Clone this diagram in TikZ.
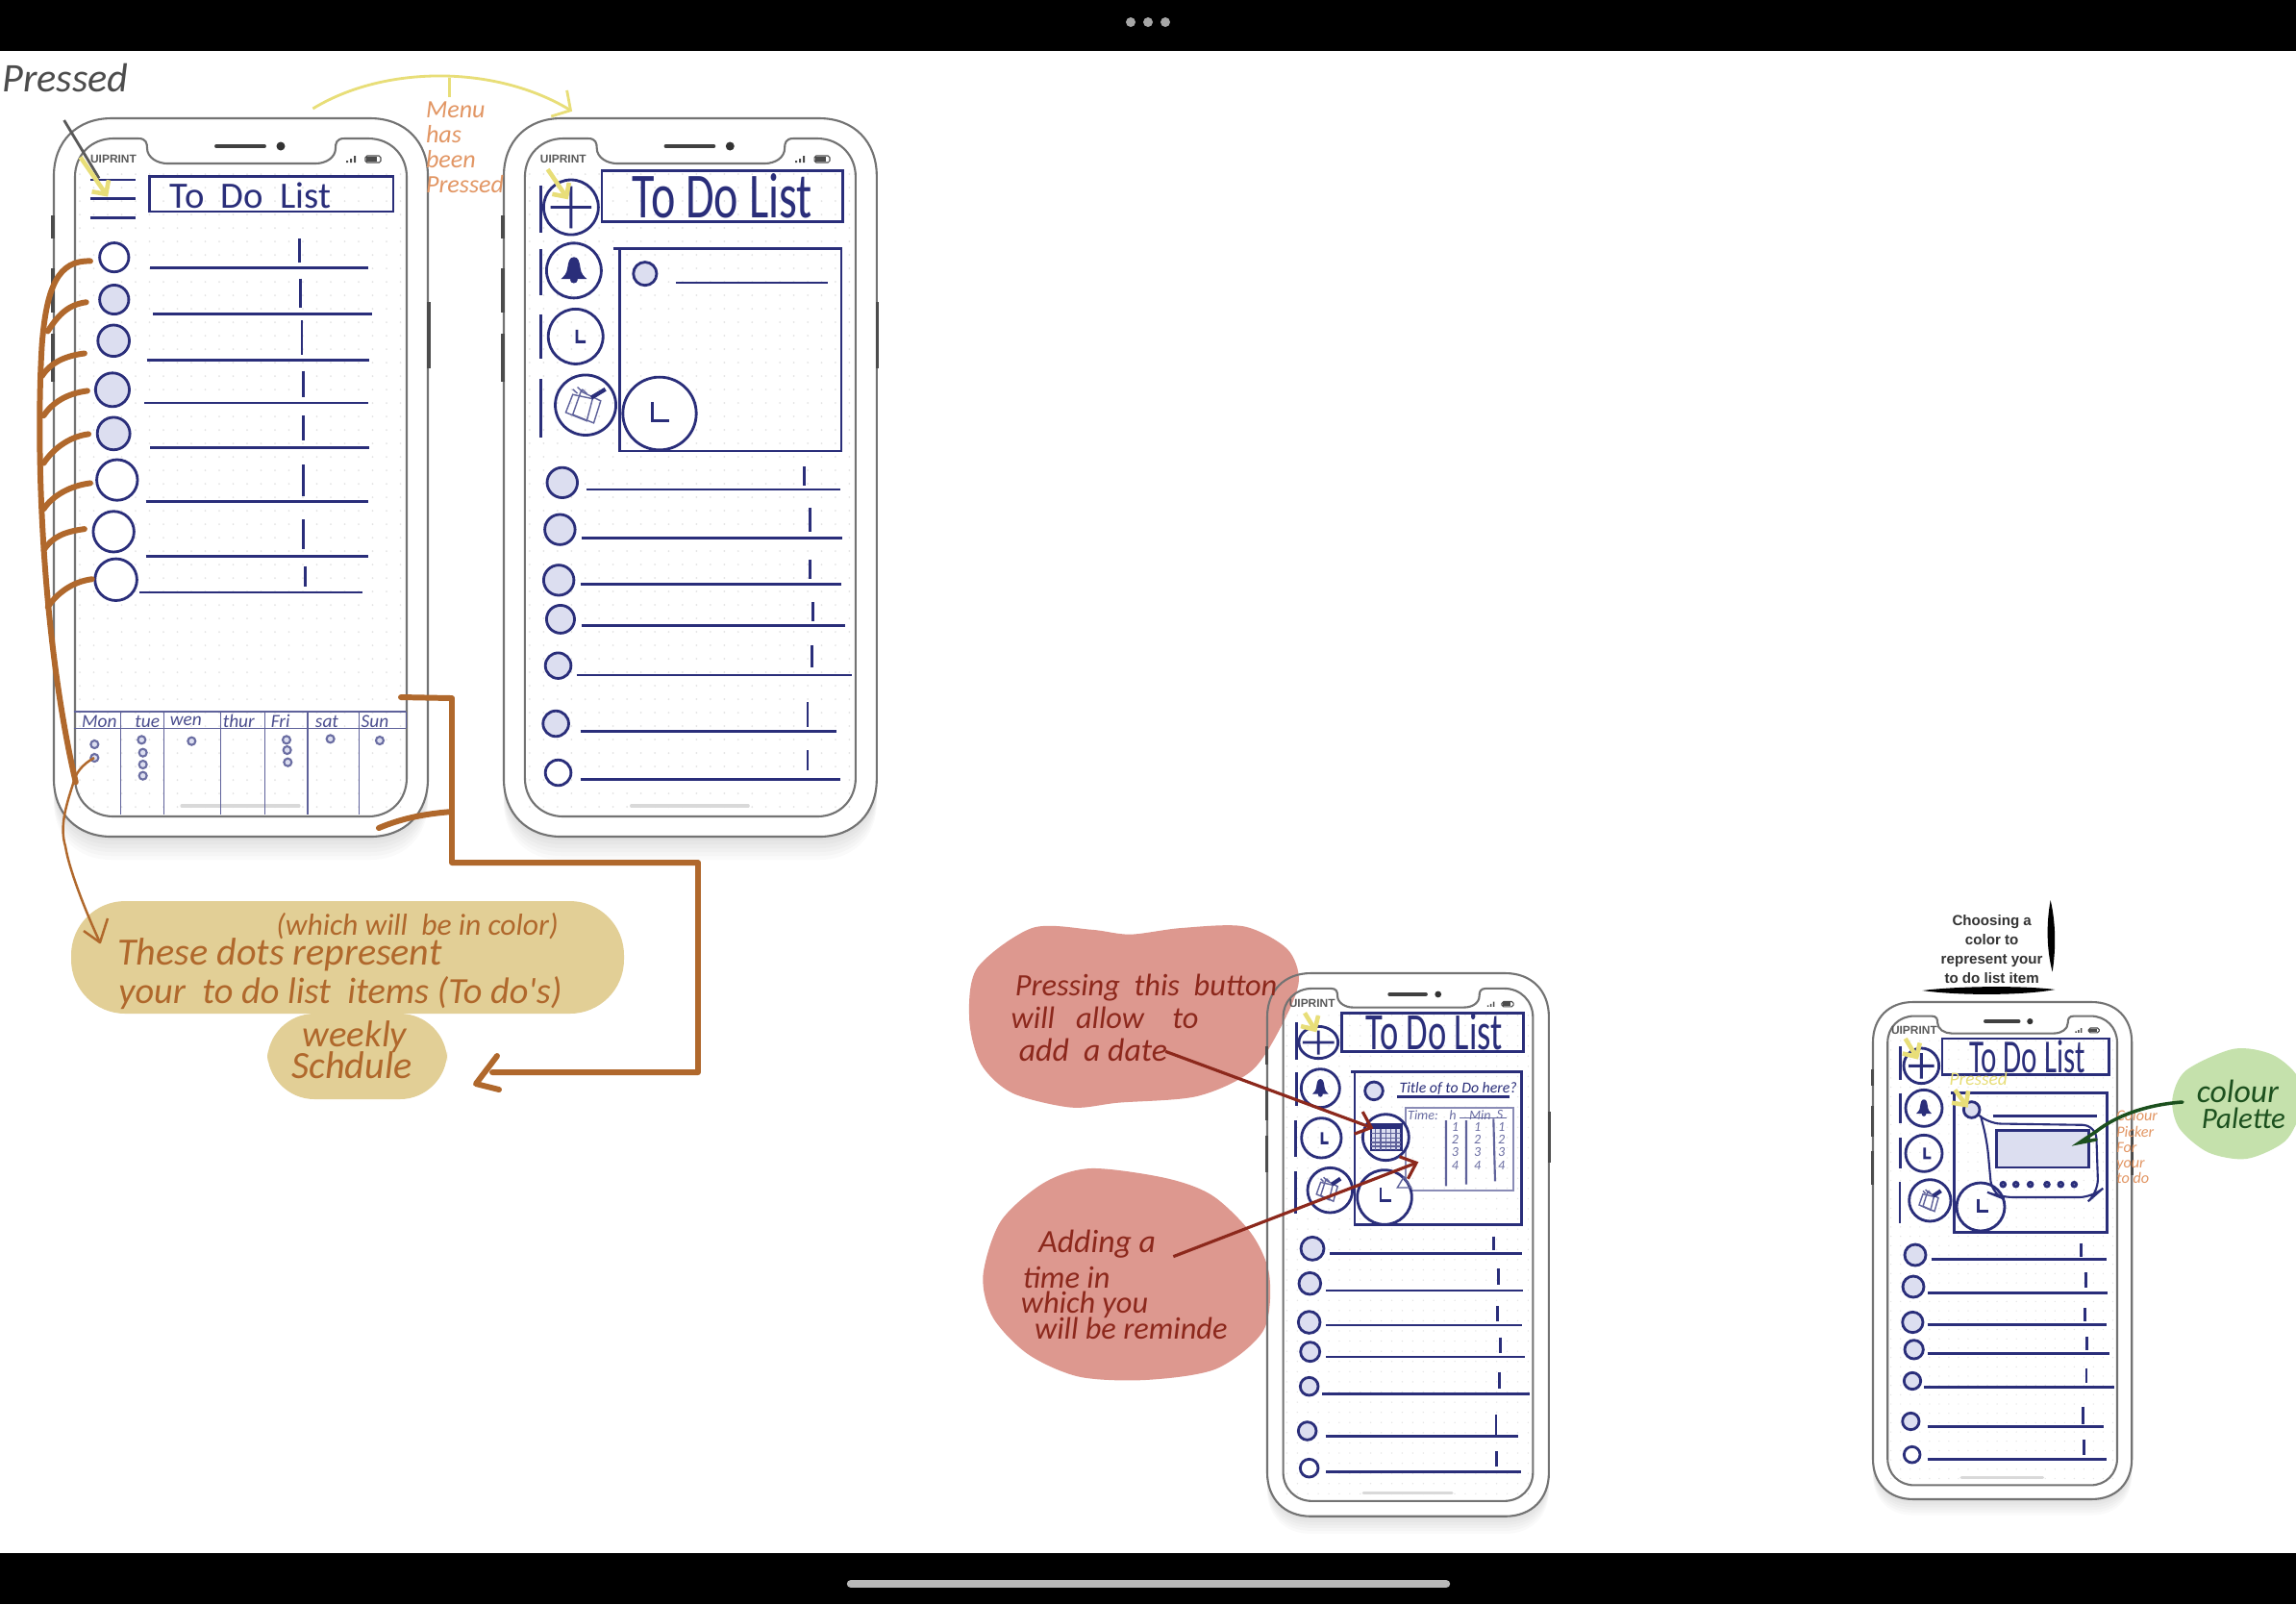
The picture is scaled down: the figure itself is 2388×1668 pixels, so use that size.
\documentclass[tikz,border=0pt]{standalone}
\usepackage{fontspec}
\usetikzlibrary{arrows.meta, calc}
\newfontfamily\handfont{Carlito}
\newfontfamily\labelfont{Liberation Sans}
\definecolor{inkblue}{RGB}{42,46,122}
\definecolor{dotfill}{RGB}{220,222,240}
\definecolor{brownpen}{RGB}{176,104,44}
\definecolor{sandfill}{RGB}{226,207,150}
\definecolor{salmonfill}{RGB}{221,152,143}
\definecolor{redpen}{RGB}{140,40,28}
\definecolor{greenfill}{RGB}{197,225,172}
\definecolor{greenpen}{RGB}{28,80,30}
\definecolor{orangepen}{RGB}{226,150,100}
\definecolor{yellowpen}{RGB}{232,222,120}
\tikzset{
    ink/.style={draw=inkblue, line width=0.8pt},
    thinink/.style={draw=inkblue!75, line width=0.4pt},
    casing/.style={draw=gray!90!black, line width=0.6pt},
    griddot/.style={fill=gray!22},
    hand/.style={font=\handfont\itshape\fontsize{#1}{#1}\selectfont, inner sep=0pt},
    plain/.style={font=\handfont\fontsize{#1}{#1}\selectfont, inner sep=0pt},
    brownline/.style={draw=brownpen, line width=1.7pt, line cap=round, line join=round},
    redline/.style={draw=redpen, line width=0.9pt, -{Straight Barb[length=4pt,width=7pt]}},
    yellowmark/.style={draw=yellowpen, line width=1.3pt, -{Straight Barb[length=3pt,width=6pt]}},
}
\newcommand{\cry}{1}
% outer outline of the phone, 389 wide and 747 high
\newcommand{\outerpath}{(60,0) -- (329,0) .. controls (365,0) and (389,24) .. (389,60) -- (389,687) .. controls (389,723) and (365,747) .. (329,747) -- (60,747) .. controls (24,747) and (0,723) .. (0,687) -- (0,60) .. controls (0,24) and (24,0) .. (60,0) -- cycle}
\newcommand{\phoneback}[4]{
    \begin{scope}[shift={(#1,#2)}, xscale=#3, yscale=#4]
        \foreach \k in {4,8,12,16,20,24}
            \fill[black, opacity=0.018, shift={(0,\k)}] \outerpath;
        \fill[white] \outerpath;
    \end{scope}
}
\newcommand{\phoneframe}[4]{
    \begin{scope}[shift={(#1,#2)}, xscale=#3, yscale=#4]
        \foreach \i in {0,...,23}
            \foreach \j in {0,...,47}
                \fill[griddot] (27+14.5*\i,58+14*\j) circle (1);
        \draw[casing] \outerpath;
        \draw[casing] (62,21) -- (88,21) .. controls (96,21) and (97,26) .. (97,31) .. controls (97,41) and (108,47) .. (118,47) -- (272,47) .. controls (283,47) and (293,41) .. (293,31) .. controls (293,26) and (294,21) .. (302,21) -- (327,21) .. controls (350,21) and (367,38) .. (367,61) -- (367,686) .. controls (367,709) and (350,726) .. (327,726) -- (62,726) .. controls (39,726) and (22,709) .. (22,686) -- (22,61) .. controls (22,38) and (39,21) .. (62,21) -- cycle;
        \draw[black!75, line width=1.1pt, line cap=round] (169,29) -- (219,29);
        \fill[black!80] (236,29) circle (4.5);
        \node[font=\labelfont\bfseries\fontsize{3.4}{3.4}\selectfont, text=gray!70!black, inner sep=0pt] (brand) at (62,42) {UIPRINT};
        \fill[black!70] (304,44) rectangle (306,46) (308,42) rectangle (310,46) (312,39) rectangle (314,46);
        \draw[black!70, line width=0.3pt, rounded corners=0.5pt] (324,39) rectangle (340,46);
        \fill[black!70] (325,40) rectangle (336,45);
        \draw[black!70, line width=0.9pt] (-1,101) -- (-1,125) (-1,156) -- (-1,202) (-1,224) -- (-1,274) (390,191) -- (390,260);
        \draw[gray!30, line width=0.9pt, line cap=round] (133,715) -- (255,715);
    \end{scope}
}
% one row: circle x/y/radius, fill, line x/y/end, tick x/top/bottom
\newcommand{\todorows}[1]{
    \foreach \cx/\cy/\cr/\cf/\lx/\ly/\rx/\tx/\ta/\tb in {#1} {
        \draw[ink, fill=\cf] (\cx,\cy) circle [x radius=\cr, y radius=\cr*\cry];
        \draw[ink] (\lx,\ly) -- (\rx,\ly);
        \draw[ink] (\tx,\ta) -- (\tx,\tb);
    }
}
\newcommand{\bellicon}[3]{
    \fill[inkblue, shift={(#1,#2)}, scale=#3] (0,-32) .. controls (10,-32) and (12,-20) .. (14,-5) .. controls (16,8) and (20,12) .. (28,20) -- (-28,20) .. controls (-20,12) and (-16,8) .. (-14,-5) .. controls (-12,-20) and (-10,-32) .. (0,-32) -- cycle (0,22) circle (8);
}
\newcommand{\notesicon}[3]{
    \begin{scope}[shift={(#1,#2)}, scale=#3]
        \draw[thinink] (-22,-20) -- (12,-12) -- (2,30) -- (-34,14) -- cycle;
        \draw[thinink] (-8,-26) -- (26,-8) -- (14,34) -- (-22,18) -- cycle;
        \draw[thinink] (-22,-30) -- (-14,-22) (-14,-34) -- (-6,-26) (-6,-30) -- (2,-22);
        \draw[inkblue, line width=1.2pt] (10,-14) -- (34,-30);
    \end{scope}
}
\begin{document}
\begin{tikzpicture}[x=0.01cm, y=-0.01cm]
    \useasboundingbox (0,0) rectangle (2388,1668);
    \fill[white] (0,0) rectangle (2388,1668);

    \phoneback{56}{123}{1}{1}
    \phoneback{524}{123}{0.997}{1}
    \phoneback{1318}{1012}{0.753}{0.756}
    \phoneback{1948}{1042}{0.692}{0.692}

    % blobs sit under the phone lines
    \begin{scope}[shift={(1000,950)}, xscale=0.408, yscale=0.3333]
        \fill[salmonfill] plot[smooth cycle] coordinates {(180,45) (330,50) (430,65) (560,45) (720,40) (830,110) (860,210) (820,340) (740,490) (600,570) (400,590) (280,605) (130,560) (50,470) (20,330) (40,170)};
        \fill[salmonfill] plot[smooth cycle] coordinates {(330,795) (520,825) (640,880) (740,1000) (785,1130) (770,1300) (650,1420) (470,1455) (300,1445) (170,1375) (80,1260) (55,1130) (100,960) (210,840)};
    \end{scope}
    \begin{scope}[shift={(1920,920)}, scale=0.3333]
        \fill[greenfill] plot[smooth cycle] coordinates {(1210,512) (1330,530) (1410,600) (1420,700) (1370,800) (1250,855) (1130,835) (1040,760) (1018,670) (1060,580)};
    \end{scope}
    \fill[sandfill, rounded corners=16pt] (74,937) rectangle (649,1054);
    \fill[sandfill, rounded corners=14pt] (278,1054) rectangle (465,1143);

    \phoneframe{56}{123}{1}{1}
    \phoneframe{524}{123}{0.997}{1}
    \phoneframe{1318}{1012}{0.753}{0.756}
    \phoneframe{1948}{1042}{0.692}{0.692}

    % first two phones
    \begin{scope}[shift={(0,40)}, xscale=0.606, yscale=0.5485]
        \renewcommand{\cry}{1.1}
        \draw[ink] (155,268) -- (232,268) (155,303) -- (232,303) (155,340) -- (232,340);
        \draw[ink] (257,262) rectangle (675,328);
        \node[plain=11, text=inkblue] (titleone) at (430,298) {To\ \ Do\ \ List};
        \todorows{196/415/25/white/258/435/632/514/380/425, 196/495/25/dotfill/262/522/638/516/455/510, 195/573/27/dotfill/252/610/634/518/535/600, 193/666/29/dotfill/248/691/632/521/630/680, 195/749/28/dotfill/258/775/634/521/715/762, 201/837/35/white/250/878/632/521/808/868, 195/935/35/white/250/982/632/521/912/968, 199/1026/36/white/240/1050/622/524/1000/1040}

        \draw[ink] (980,320) circle [x radius=47, y radius=52] (980,280) -- (980,360) (945,320) -- (1015,320);
        \draw[ink] (928,278) -- (928,368) (928,400) -- (928,487) (928,523) -- (928,607) (928,645) -- (928,757);
        \draw[ink] (1033,250) rectangle (1447,347);
        \node[plain=19, text=inkblue] (titletwo) at (1240,298) {\scalebox{0.72}[1]{To Do List}};
        \draw[ink] (985,440) circle [x radius=47, y radius=52];
        \bellicon{985}{440}{0.8}
        \draw[ink] (988,565) circle [x radius=47, y radius=52] (990,552) -- (990,575) -- (1005,575);
        \draw[ink] (1005,695) circle [x radius=52, y radius=57];
        \notesicon{1005}{695}{1}
        \draw[ink] (1052,398) -- (1444,398) -- (1444,782) -- (1063,782) -- (1063,398);
        \draw[ink, fill=dotfill] (1107,446) circle [x radius=20, y radius=22];
        \draw[ink] (1160,463) -- (1420,463);
        \draw[ink, fill=white] (1132,711) circle [x radius=63, y radius=69];
        \draw[ink] (1120,690) -- (1120,725) -- (1148,725);
        \todorows{965/842/26/dotfill/1006/855/1443/1380/812/848, 961/931/26/dotfill/998/947/1446/1390/890/935, 959/1027/26/dotfill/996/1034/1444/1390/988/1024, 962/1101/24/dotfill/998/1113/1450/1395/1068/1104, 958/1189/22/dotfill/990/1207/1462/1393/1150/1192, 954/1299/22/dotfill/996/1313/1436/1386/1258/1305, 958/1392/22/white/996/1404/1442/1386/1350/1388}

        % notes on top of them
        \node[hand=12, text=gray!60!black] (pressedlabel) at (112,75) {Pressed};
        \draw[gray!70!black, line width=0.8pt] (110,155) -- (170,265);
        \draw[yellowmark] (138,225) -- (185,300);
        \draw[yellowmark] (940,248) -- (975,305);
        \draw[draw=yellowpen, line width=0.8pt, -{Straight Barb[length=4pt,width=9pt]}] (537,133) .. controls (660,50) and (850,50) .. (982,138);
        \draw[draw=yellowpen, line width=0.8pt] (772,75) -- (772,112);
        \node[hand=7.4, text=orangepen, align=left, anchor=north west] (menulabel) at (730,118) {Menu\\has\\been\\Pressed};
    \end{scope}

    % weekly strip of the first phone
    \begin{scope}[shift={(60,730)}, scale=0.3333]
        \draw[thinink] (50,30) -- (1087,30) (50,82) -- (1087,82) (1087,30) -- (1087,82);
        \foreach \dx in {197,332,508,647,780,940}
            \draw[thinink] (\dx,30) -- (\dx,350);
        \foreach \dx/\dname in {130/Mon, 280/tue, 400/wen, 565/thur, 695/Fri, 840/sat, 990/Sun}
            \node[hand=5.5, text=inkblue!85] (day\dname) at (\dx,60) {\dname};
        \foreach \dx/\dy in {115/132, 115/174, 262/118, 266/158, 266/195, 266/230, 418/122, 714/118, 716/150, 718/188, 851/115, 1005/120}
            \draw[inkblue!70, line width=0.6pt, fill=dotfill] (\dx,\dy) circle (12);
    \end{scope}

    % brown branches
    \begin{scope}[shift={(0,40)}, xscale=0.606, yscale=0.5485]
        \draw[brownline] (155,422) .. controls (100,420) and (80,470) .. (72,580) .. controls (60,800) and (75,1150) .. (130,1410);
        \foreach \bx/\by/\ex/\ey in {148/500/82/555, 145/597/72/640, 150/668/75/715, 152/750/75/805, 155/843/75/892, 145/930/75/970, 158/1025/82/1078}
            \draw[brownline] (\bx,\by) .. controls (\bx-35,\by+5) and (\ex+15,\ey-25) .. (\ex,\ey);
    \end{scope}
    \draw[draw=brownpen, line width=0.7pt] (98,788) .. controls (85,795) and (78,805) .. (76,815) .. controls (68,840) and (62,860) .. (68,880) .. controls (72,905) and (90,950) .. (104,980);
    \draw[draw=brownpen, line width=0.7pt, line join=round] (87,968) -- (104,980) -- (112,955);
    \draw[brownline] (417,725) -- (470,726) -- (470,897) -- (726,897) -- (726,1115) -- (512,1115);
    \draw[brownline] (394,861) .. controls (420,850) and (445,846) .. (470,844);
    \draw[brownline] (517,1098) -- (495,1127) -- (519,1133);

    \node[hand=9, text=brownpen] (colornote) at (434,963) {(which will\ \ be in color)};
    \node[hand=11.4, text=brownpen] (dotsline) at (291,993) {These dots represent};
    \node[hand=10.9, text=brownpen] (itemsline) at (354,1033) {your\ \ to do list\ \ items (To do's)};
    \node[hand=11, text=brownpen] (weeklyline) at (369,1078) {weekly};
    \node[hand=11.4, text=brownpen] (scheduleline) at (366,1108) {Schdule};

    % third phone
    \begin{scope}[shift={(1000,950)}, xscale=0.408, yscale=0.3333]
        \draw[ink] (910,402) circle (50) (910,365) -- (910,440) (870,402) -- (950,402);
        \draw[ink] (855,340) -- (855,455) (855,495) -- (855,600) (852,645) -- (852,758) (852,805) -- (852,935);
        \draw[ink] (970,310) rectangle (1432,430);
        \node[plain=15.5, text=inkblue] (titlethree) at (1205,368) {\scalebox{0.67}[1]{To Do List}};
        \draw[yellowmark] (875,310) -- (905,370);
    \end{scope}
    \begin{scope}[shift={(1340,1100)}, scale=0.3333]
        \draw[ink] (100,95) circle (60);
        \bellicon{100}{95}{0.9}
        \draw[ink] (103,250) circle (62) (105,232) -- (105,265) -- (125,265);
        \draw[ink] (130,413) circle (70);
        \notesicon{125}{410}{1.1}
        \draw[ink] (196,43) -- (728,43) -- (728,520) -- (207,520) -- (207,43);
        \draw[ink, fill=dotfill] (267,103) circle (28);
        \node[hand=4.5, text=inkblue] (titlefield) at (530,97) {Title of to Do here?};
        \draw[ink] (340,122) -- (690,122);
        \draw[draw=inkblue!55, line width=0.5pt] (365,155) rectangle (703,415);
        \node[hand=4, text=inkblue!70] (timefield) at (420,178) {Time:};
        \node[hand=4, text=inkblue!70] (hourfield) at (513,178) {h};
        \node[hand=4, text=inkblue!70] (minfield) at (598,178) {Min};
        \node[hand=4, text=inkblue!70] (secfield) at (660,178) {S};
        \draw[thinink] (535,188) -- (680,188);
        \draw[thinink, line width=0.6pt] (492,195) -- (492,400) (555,195) -- (555,395) (640,190) -- (645,385);
        \foreach \dx/\dy/\dval in {520/215/1, 520/255/2, 520/295/3, 520/335/4, 590/215/1, 590/255/2, 590/295/3, 590/335/4, 665/215/1, 665/255/2, 665/295/3, 665/335/4}
            \node[hand=4, text=inkblue!70] at (\dx,\dy) {\dval};
        \draw[ink, fill=white] (304,248) circle (72);
        \draw[ink, fill=dotfill] (258,208) rectangle (352,288);
        \fill[inkblue] (258,208) rectangle (352,222);
        \foreach \gx in {272,288,304,320,336}
            \draw[thinink] (\gx,222) -- (\gx,288);
        \foreach \gy in {236,250,264,276}
            \draw[thinink] (258,\gy) -- (352,\gy);
        \draw[ink, fill=white] (300,435) circle (85);
        \draw[ink] (288,405) -- (288,445) -- (320,445);
        \draw[thinink] (340,405) -- (360,372) -- (383,405) -- cycle;
    \end{scope}
    \begin{scope}[shift={(1280,1240)}, scale=0.3333]
        \todorows{255/175/36/dotfill/310/190/908/820/137/180, 247/284/34/dotfill/298/306/912/836/238/288, 245/405/34/dotfill/296/414/908/833/355/403, 248/497/30/dotfill/298/513/918/842/452/500, 245/605/28/dotfill/285/629/932/838/560/612, 239/744/28/dotfill/296/760/896/828/692/755, 245/860/28/white/298/872/906/830/808/855}
    \end{scope}
    \begin{scope}[shift={(1000,950)}, xscale=0.408, yscale=0.3333]
        \node[hand=9.2, text=redpen, anchor=west] (buttonline) at (135,230) {Pressing\ \ this\ \ button};
        \node[hand=9.2, text=redpen, anchor=west] (allowline) at (125,325) {will\ \ \ allow\ \ \ \ to};
        \node[hand=9.6, text=redpen, anchor=west] (dateline) at (145,425) {add\ \ a\ date};
        \node[hand=9.6, text=redpen, anchor=west] (addingline) at (195,1030) {Adding\ a};
        \node[hand=9.2, text=redpen, anchor=west] (timeline) at (155,1135) {time in};
        \node[hand=9.2, text=redpen, anchor=west] (whichline) at (150,1220) {which\ you};
        \node[hand=9.2, text=redpen, anchor=west] (remindline) at (185,1295) {will\ be\ reminde};
        \draw[redline] (520,430) -- (1050,670);
        \draw[redline] (540,1070) -- (1165,775);
    \end{scope}

    % fourth phone
    \begin{scope}[shift={(1920,920)}, scale=0.3333]
        \draw[ink] (235,565) circle (55) (235,525) -- (235,605) (195,565) -- (275,565);
        \draw[ink] (170,505) -- (170,610) (170,650) -- (170,745) (170,790) -- (170,885) (168,928) -- (168,1055);
        \draw[ink] (300,480) rectangle (820,592);
        \node[plain=14, text=inkblue] (titlefour) at (565,535) {\scalebox{0.63}[1]{To Do List}};
        \draw[ink] (243,697) circle (57);
        \bellicon{243}{697}{0.85}
        \draw[ink] (243,838) circle (57) (245,820) -- (245,852) -- (265,852);
        \draw[ink] (262,985) circle (65);
        \notesicon{262}{985}{1}
        \draw[ink] (327,650) -- (815,650) -- (815,1085) -- (337,1085) -- (337,650);
        \draw[ink, fill=dotfill] (392,702) circle (25);
        \draw[ink] (458,722) -- (782,722);
        \draw[draw=inkblue, line width=0.6pt, rounded corners=4pt] (415,720) -- (440,745) -- (780,750) -- (787,960) -- (770,975) -- (480,975) -- (455,965) -- (440,800) -- (420,720);
        \draw[ink, fill=dotfill] (470,767) rectangle (757,882);
        \foreach \px in {490,530,575,627,670,712}
            \draw[ink, fill=inkblue!60] (\px,935) circle (7);
        \draw[ink] (420,1005) circle (75);
        \draw[ink] (412,980) -- (412,1018) -- (445,1018);
        \draw[yellowmark] (185,480) -- (225,545);
        \draw[yellowmark] (340,640) -- (380,695);
        \node[hand=5.5, text=yellowpen] (pressedmark) at (413,605) {Pressed};
        \node[hand=4.6, text=orangepen, align=left, anchor=north west] (pickerlabel) at (842,702) {Colour\\Picker\\For\\your\\to do};
        \node[font=\labelfont\bfseries\fontsize{4.3}{4.3}\selectfont, text=black!80, align=center, inner sep=0pt] (choosinglabel) at (455,200) {Choosing a\\[1.4pt]color to\\[1.4pt]represent your\\[1.4pt]to do list item};
        \fill[black] (638,48) .. controls (655,120) and (655,200) .. (644,272) .. controls (625,200) and (625,120) .. (638,48) -- cycle;
        \fill[black] (238,330) .. controls (350,316) and (550,314) .. (652,327) .. controls (550,346) and (350,346) .. (238,330) -- cycle;
        \node[hand=9.6, text=greenpen] (colourline) at (1222,645) {colour};
        \node[hand=8.8, text=greenpen] (paletteline) at (1240,730) {Palette};
        \draw[draw=greenpen, line width=1pt, line cap=round] (1050,678) .. controls (950,685) and (850,715) .. (780,770) -- (728,805) -- (780,795);
    \end{scope}
    \begin{scope}[shift={(1930,1240)}, scale=0.3333]
        \todorows{186/195/33/dotfill/236/208/782/704/158/200, 180/294/33/dotfill/226/314/786/718/250/296, 178/405/32/dotfill/224/413/784/716/360/403, 182/490/29/dotfill/224/503/792/722/450/492, 177/588/26/dotfill/214/608/806/720/548/594, 172/714/26/dotfill/224/730/774/710/668/722, 176/818/25/white/224/832/782/712/772/818}
    \end{scope}

    % device bars
    \fill[black] (0,0) rectangle (2388,53);
    \fill[black] (0,1615) rectangle (2388,1668);
    \fill[gray!70] (1176,23) circle (5) (1194,23) circle (5) (1212,23) circle (5);
    \draw[gray!55, line width=2.4pt, line cap=round] (885,1647) -- (1504,1647);
\end{tikzpicture}
\end{document}
